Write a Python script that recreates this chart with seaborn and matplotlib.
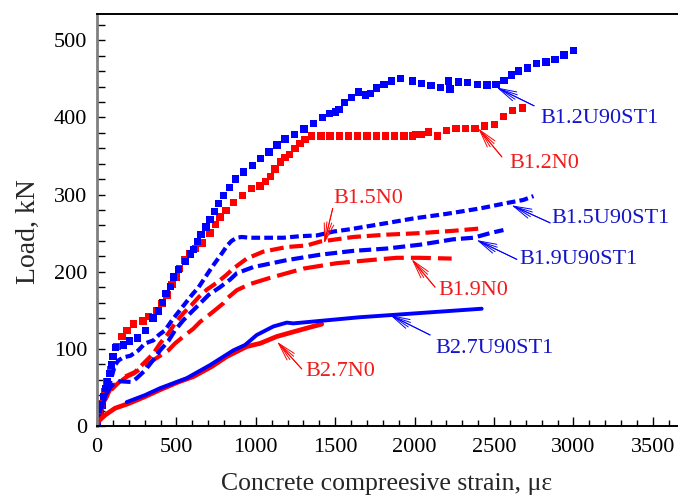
import numpy as np
import pandas as pd
import matplotlib
matplotlib.use("Agg")
import matplotlib.pyplot as plt
import matplotlib.ticker as mticker
import seaborn as sns

# --- DATA ---
# strain in micro-strain, load in kN
b12u_x = [0, 21, 31, 42, 57, 67, 80, 90, 101, 115, 168, 203, 256, 304, 353, 389, 414, 435, 462, 483,
          514, 556, 588, 606, 632, 655, 686, 712, 739, 764, 795, 833, 873, 921, 978, 1031, 1083, 1133,
          1184, 1242, 1303, 1362, 1419, 1465, 1503, 1524, 1560, 1601, 1648, 1690, 1721, 1761, 1807,
          1856, 1912, 1985, 2045, 2103, 2162, 2212, 2223, 2275, 2334, 2395, 2456, 2513, 2563, 2611,
          2655, 2710, 2769, 2827, 2884, 2941, 2999]
b12u_y = [0, 16, 27, 38, 49, 57, 68, 79, 90, 102, 105, 110, 114, 124, 140, 149, 160, 172, 181, 193,
          203, 213, 223, 229, 239, 248, 258, 268, 278, 288, 299, 309, 320, 329, 338, 347, 355, 364,
          372, 378, 385, 392, 400, 405, 407, 410, 419, 426, 433, 429, 431, 438, 443,
          447, 450, 447, 444, 441, 439, 447, 437, 446, 445, 443, 442, 443, 448, 455,
          460, 464, 470, 472, 475, 481, 487]

b12n_x = [0, 31, 48, 63, 84, 105, 126, 157, 189, 231, 290, 326, 378, 409, 441, 472, 497, 518, 552,
          581, 620, 665, 712, 745, 775, 812, 859, 915, 974, 1026, 1060, 1094, 1121, 1157, 1184, 1211,
          1247, 1278, 1310, 1352, 1410, 1468, 1526, 1584, 1642, 1700, 1758, 1816, 1874, 1932, 1985,
          2005, 2045, 2087, 2143, 2202, 2261, 2322, 2380, 2439, 2502, 2559, 2618, 2681]
b12n_y = [0, 29, 44, 57, 73, 90, 103, 116, 124, 132, 136, 142, 149, 159, 170, 183, 193, 204, 215,
          224, 230, 237, 250, 261, 271, 279, 290, 299, 308, 311, 317, 323, 333, 342, 348, 352,
          360, 366, 371, 376, 376, 376, 376, 376, 376, 376, 376, 376, 376, 376, 376,
          378, 378, 381, 376, 383, 386, 386, 386, 389, 391, 401, 409, 412]

b15u_x = [0, 21, 42, 63, 90, 113, 135, 166, 210, 260, 302, 355, 389, 428, 472, 514, 556, 598, 640,
          682, 724, 787, 820, 848, 880, 911, 963, 1068, 1173, 1278, 1384, 1488, 1593, 1824, 1992,
          2202, 2412, 2580, 2685, 2748]
b15u_y = [0, 21, 33, 45, 62, 79, 85, 89, 91, 98, 107, 111, 118, 124, 137, 148, 159, 170, 180,
          193, 206, 224, 234, 240, 244, 245, 244, 244, 244, 246, 247, 252, 255, 263, 269,
          275, 282, 289, 293, 298]

b15n_x = [0, 40, 80, 130, 176, 239, 302, 355, 397, 449, 491, 543, 596, 640, 693, 756, 810, 858, 943,
          1047, 1195, 1321, 1404, 1614, 1824, 2034, 2244, 2412]
b15n_y = [0, 30, 45, 55, 64, 70, 83, 94, 107, 120, 133, 146, 157, 167, 177, 186, 195, 204, 217,
          226, 232, 234, 239, 245, 248, 250, 253, 256]

b19u_x = [0, 30, 60, 90, 113, 145, 218, 250, 302, 344, 397, 449, 491, 543, 596, 640, 703, 775, 839,
          880, 984, 1195, 1404, 1614, 1824, 2034, 2244, 2370, 2475, 2559]
b19u_y = [0, 25, 42, 52, 55, 58, 57, 62, 72, 83, 98, 110, 124, 137, 148, 157, 170, 180, 190,
          198, 206, 215, 222, 227, 230, 235, 242, 244, 250, 254]

b19n_x = [0, 40, 90, 189, 231, 300, 389, 449, 491, 550, 606, 649, 700, 754, 795, 817, 880, 963, 1089,
          1299, 1509, 1719, 1887, 2034, 2233]
b19n_y = [0, 30, 50, 64, 68, 78, 90, 98, 107, 117, 126, 135, 143, 152, 159, 165, 176, 184, 192,
          204, 211, 215, 218, 218, 217]

b27n_x = [0, 8, 50, 113, 197, 302, 397, 512, 606, 722, 817, 943, 984, 1026, 1132, 1236, 1341, 1415]
b27n_y = [0, 6, 14, 23, 29, 38, 47, 57, 64, 77, 90, 103, 105, 107, 116, 122, 128, 132]

b27u_x = [187, 302, 397, 565, 712, 858, 932, 1006, 1110, 1195, 1236, 1446, 1656, 1866, 2422]
b27u_y = [31, 40, 49, 62, 79, 98, 105, 118, 129, 134, 133, 137, 141, 144, 152]

BLUE = "#0000ff"
RED = "#ff0000"
BLUE_TXT = "#1414c8"
RED_TXT = "#f01c1c"

sns.set_style("ticks")
plt.rcParams["font.family"] = ["Liberation Serif", "DejaVu Serif"]

fig = plt.figure(figsize=(6.78, 4.95), dpi=100)
ax = fig.add_axes([0.1431, 0.1394, 0.8667, 0.8323])

# dashed / solid curves
sns.lineplot(x=b19n_x, y=b19n_y, ax=ax, sort=False, estimator=None, color=RED, lw=3.0,
             linestyle=(0, (4.8, 1.7)))
sns.lineplot(x=b15n_x, y=b15n_y, ax=ax, sort=False, estimator=None, color=RED, lw=3.0,
             linestyle=(0, (3.3, 1.4)))
sns.lineplot(x=b19u_x, y=b19u_y, ax=ax, sort=False, estimator=None, color=BLUE, lw=3.0,
             linestyle=(0, (2.9, 1.2)))
sns.lineplot(x=b15u_x, y=b15u_y, ax=ax, sort=False, estimator=None, color=BLUE, lw=3.0,
             linestyle=(0, (2.1, 1.0)))
sns.lineplot(x=b27n_x, y=b27n_y, ax=ax, sort=False, estimator=None, color=RED, lw=3.4)
sns.lineplot(x=b27u_x, y=b27u_y, ax=ax, sort=False, estimator=None, color=BLUE, lw=2.8)

# square-marker series
sns.scatterplot(x=b12n_x, y=b12n_y, ax=ax, marker="s", s=28, color=RED, edgecolor="none")
sns.scatterplot(x=b12u_x, y=b12u_y, ax=ax, marker="s", s=28, color=BLUE, edgecolor="none")

# --- LABELS WITH FAN ARROWS ---
labels = [
    ("B1.2U90ST1", (2517, 438.7), (2752, 415), (2794, 398.6), BLUE, BLUE_TXT),
    ("B1.2N0", (2401, 385.6), (2549, 348.8), (2596, 340.3), RED, RED_TXT),
    ("B1.5U90ST1", (2611, 286), (2853, 263.3), (2863, 269), BLUE, BLUE_TXT),
    ("B1.5N0", (1431, 236.7), (1484, 282), (1488, 295), RED, RED_TXT),
    ("B1.9U90ST1", (2391, 241), (2643, 216), (2659, 216), BLUE, BLUE_TXT),
    ("B1.9N0", (1982, 216), (2128, 180), (2149, 176), RED, RED_TXT),
    ("B2.7U90ST1", (1845, 143.8), (2097, 118), (2128, 100.6), BLUE, BLUE_TXT),
    ("B2.7N0", (1135, 109), (1289, 74), (1314, 70), RED, RED_TXT),
]
for name, tip, tail, pos, lc, tc in labels:
    for hw in (0.35, 0.18):
        ax.annotate("", xy=tip, xytext=tail,
                    arrowprops=dict(arrowstyle=f"->,head_length=1.3,head_width={hw}",
                                    lw=0.7, color=lc, shrinkA=0, shrinkB=0))
    ax.text(pos[0], pos[1], name, color=tc, fontsize=16, ha="left", va="center")

# --- AXES ---
ax.set_xlim(0, 3700)
ax.set_ylim(0, 534)
ax.xaxis.set_major_locator(mticker.MultipleLocator(500))
ax.xaxis.set_minor_locator(mticker.MultipleLocator(100))
ax.yaxis.set_major_locator(mticker.MultipleLocator(100))
ax.yaxis.set_minor_locator(mticker.MultipleLocator(20))
ax.tick_params(axis="both", which="both", direction="in", colors="black", labelsize=16)
ax.tick_params(axis="x", which="major", length=6.5, width=1, pad=9)
ax.tick_params(axis="x", which="minor", length=4.3, width=1)
ax.tick_params(axis="y", which="major", length=6, width=1, pad=7)
ax.tick_params(axis="y", which="minor", length=6, width=1)

for side in ["top", "bottom"]:
    ax.spines[side].set_color("black")
    ax.spines[side].set_linewidth(1.4)
ax.spines["left"].set_color("#808080")
ax.spines["left"].set_linewidth(2)

ax.set_xlabel("Concrete compreesive strain, με", fontsize=18.5)
ax.set_ylabel("Load, kN", fontsize=20)
ax.xaxis.set_label_coords(0.4935, -0.115)
ax.yaxis.set_label_coords(-0.095, 0.471)

fig.savefig("out.png", dpi=100)
